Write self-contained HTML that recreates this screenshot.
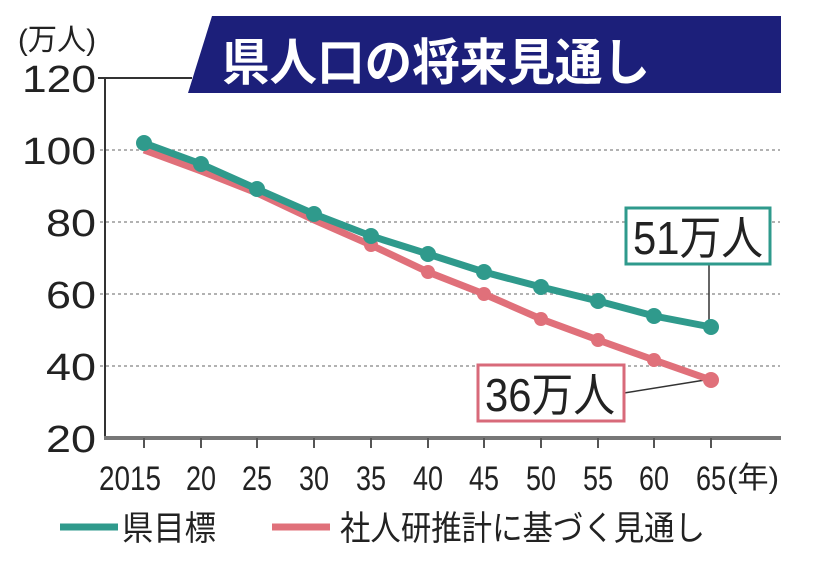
<!DOCTYPE html><html><head><meta charset="utf-8"><style>body{margin:0;background:#fff}svg{display:block}text{font-family:"Liberation Sans","Noto Sans CJK JP",sans-serif;fill:#222}</style></head><body>
<svg width="816" height="572" viewBox="0 0 816 572">
<polygon points="212,16 781,16 781,93 188,93" fill="#1c1f7a"/>
<text x="222" y="80" font-size="50" style="fill:#fff" font-weight="bold" textLength="428" lengthAdjust="spacingAndGlyphs">県人口の将来見通し</text>
<text x="18" y="50" font-size="30" textLength="78" lengthAdjust="spacingAndGlyphs">(万人)</text>
<g font-size="38" text-anchor="end">
<text x="96" y="92" textLength="74" lengthAdjust="spacingAndGlyphs">120</text><text x="96" y="164" textLength="74" lengthAdjust="spacingAndGlyphs">100</text><text x="96" y="236" textLength="50" lengthAdjust="spacingAndGlyphs">80</text><text x="96" y="308" textLength="50" lengthAdjust="spacingAndGlyphs">60</text><text x="96" y="380" textLength="50" lengthAdjust="spacingAndGlyphs">40</text><text x="96" y="452" textLength="50" lengthAdjust="spacingAndGlyphs">20</text></g>
<line x1="98" y1="78" x2="192" y2="78" stroke="#333" stroke-width="2"/>
<g stroke="#999" stroke-width="1.5" stroke-dasharray="3,3"><line x1="100" y1="150" x2="780" y2="150"/><line x1="100" y1="222" x2="780" y2="222"/><line x1="100" y1="294" x2="780" y2="294"/><line x1="100" y1="366" x2="780" y2="366"/></g>
<line x1="105" y1="78" x2="105" y2="438" stroke="#333" stroke-width="2"/>
<line x1="104" y1="438" x2="781" y2="438" stroke="#777" stroke-width="4"/>
<g stroke="#555" stroke-width="2"><line x1="144" y1="438" x2="144" y2="448"/><line x1="201" y1="438" x2="201" y2="448"/><line x1="257" y1="438" x2="257" y2="448"/><line x1="314" y1="438" x2="314" y2="448"/><line x1="371" y1="438" x2="371" y2="448"/><line x1="428" y1="438" x2="428" y2="448"/><line x1="484" y1="438" x2="484" y2="448"/><line x1="541" y1="438" x2="541" y2="448"/><line x1="598" y1="438" x2="598" y2="448"/><line x1="654" y1="438" x2="654" y2="448"/><line x1="711" y1="438" x2="711" y2="448"/></g>
<g font-size="34" text-anchor="middle"><text x="130" y="490" textLength="62" lengthAdjust="spacingAndGlyphs">2015</text><text x="201" y="490" textLength="30" lengthAdjust="spacingAndGlyphs">20</text><text x="257" y="490" textLength="30" lengthAdjust="spacingAndGlyphs">25</text><text x="314" y="490" textLength="30" lengthAdjust="spacingAndGlyphs">30</text><text x="371" y="490" textLength="30" lengthAdjust="spacingAndGlyphs">35</text><text x="428" y="490" textLength="30" lengthAdjust="spacingAndGlyphs">40</text><text x="484" y="490" textLength="30" lengthAdjust="spacingAndGlyphs">45</text><text x="541" y="490" textLength="30" lengthAdjust="spacingAndGlyphs">50</text><text x="598" y="490" textLength="30" lengthAdjust="spacingAndGlyphs">55</text><text x="654" y="490" textLength="30" lengthAdjust="spacingAndGlyphs">60</text><text x="711" y="490" textLength="30" lengthAdjust="spacingAndGlyphs">65</text></g>
<text x="727" y="488" font-size="30" textLength="52" lengthAdjust="spacingAndGlyphs">(年)</text>
<line x1="709" y1="262" x2="709" y2="322" stroke="#333" stroke-width="1.5"/>
<line x1="624" y1="393" x2="705" y2="380" stroke="#333" stroke-width="1.5"/>
<polyline fill="none" stroke="#e0707a" stroke-width="7" points="144,150 201,171 257,193 314,220 371,245 428,272 484,294 541,319 598,340 654,360 711,380"/>
<g fill="#e0707a"><circle cx="371" cy="245" r="7"/><circle cx="428" cy="272" r="7"/><circle cx="484" cy="294" r="7"/><circle cx="541" cy="319" r="7"/><circle cx="598" cy="340" r="7"/><circle cx="654" cy="360" r="7"/><circle cx="711" cy="380" r="8"/></g>
<polyline fill="none" stroke="#2f9a8c" stroke-width="7" points="144,143 201,164 257,189 314,214 371,236 428,254 484,272 541,287 598,301 654,316 711,327"/>
<g fill="#2f9a8c"><circle cx="144" cy="143" r="8"/><circle cx="201" cy="164" r="8"/><circle cx="257" cy="189" r="8"/><circle cx="314" cy="214" r="8"/><circle cx="371" cy="236" r="8"/><circle cx="428" cy="254" r="8"/><circle cx="484" cy="272" r="8"/><circle cx="541" cy="287" r="8"/><circle cx="598" cy="301" r="8"/><circle cx="654" cy="316" r="8"/><circle cx="711" cy="327" r="8"/></g>
<rect x="626" y="208" width="144" height="56" fill="#fff" stroke="#2f9a8c" stroke-width="3"/>
<text x="633" y="254" font-size="46" textLength="130" lengthAdjust="spacingAndGlyphs">51万人</text>
<rect x="478" y="365" width="146" height="56" fill="#fff" stroke="#d86a7a" stroke-width="3"/>
<text x="485" y="411" font-size="46" textLength="130" lengthAdjust="spacingAndGlyphs">36万人</text>
<line x1="60" y1="527" x2="118" y2="527" stroke="#2f9a8c" stroke-width="7"/>
<text x="122" y="540" font-size="34" textLength="94" lengthAdjust="spacingAndGlyphs">県目標</text>
<line x1="272" y1="527" x2="330" y2="527" stroke="#e0707a" stroke-width="7"/>
<text x="340" y="540" font-size="34" textLength="365" lengthAdjust="spacingAndGlyphs">社人研推計に基づく見通し</text>
</svg></body></html>
